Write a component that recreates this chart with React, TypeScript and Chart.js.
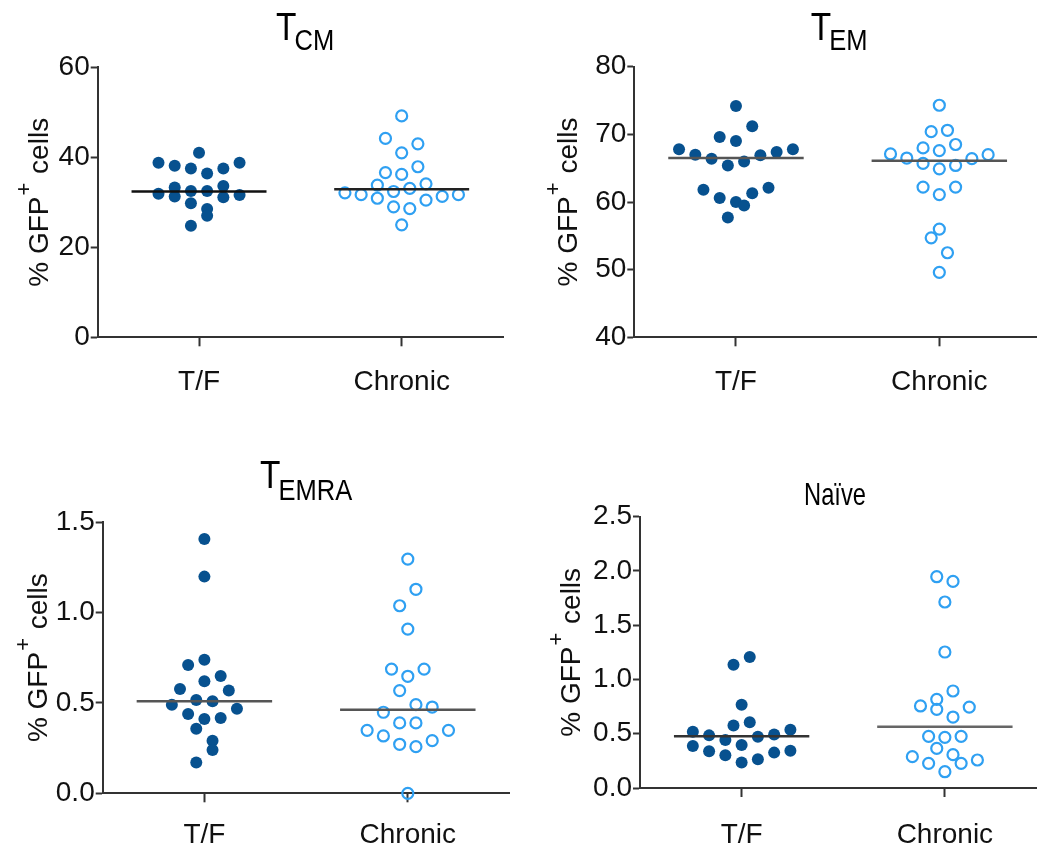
import React, { useEffect, useRef } from "react";
import { Chart, registerables } from "chart.js";

Chart.register(...registerables);

// ---------- DATA ----------
const categories = ["T/F", "Chronic"];
const jitterStep = 0.04; // width of one jitter column, in category units
const medianHalfWidth = 0.333;

// T_CM
const tcmTF = [38.8, 38.1, 37.5, 41.0, 36.4, 37.5, 38.8, 31.9, 33.3, 31.3, 32.5, 32.5, 33.6, 31.1, 31.6, 29.8, 28.5, 27.0, 24.8];
const tcmTFSlot = [-5, -3, -1, 0, 1, 3, 5, -5, -3, -3, -1, 1, 3, 3, 5, -1, 1, 1, -1];
const tcmCh = [49.2, 44.2, 43.0, 41.0, 36.6, 36.2, 37.9, 33.8, 34.1, 32.1, 31.7, 30.9, 32.4, 33.1, 30.5, 31.3, 31.7, 29.0, 28.6, 25.0];
const tcmChSlot = [0, -2, 2, 0, -2, 0, 2, -3, 3, -7, -5, -3, -1, 1, 3, 5, 7, -1, 1, 0];
const tcmMedians = [32.4, 32.9];
const tcmTicks = [0, 20, 40, 60];

// T_EM
const temTF = [74.2, 71.2, 69.6, 69.0, 67.8, 67.0, 66.4, 65.4, 66.0, 66.9, 67.4, 67.8, 61.8, 60.6, 60.0, 59.5, 61.3, 62.1, 57.7];
const temTFSlot = [0, 2, -2, 0, -7, -5, -3, -1, 1, 3, 5, 7, -4, -2, 0, 1, 2, 4, -1];
const temCh = [74.3, 70.4, 70.6, 68.0, 67.6, 68.5, 67.1, 66.5, 65.7, 64.9, 65.4, 66.4, 67.0, 62.2, 61.1, 62.2, 56.0, 54.7, 52.5, 49.6];
const temChSlot = [0, -1, 1, -2, 0, 2, -6, -4, -2, 0, 2, 4, 6, -2, 0, 2, 0, -1, 1, 0];
const temMedians = [66.5, 66.1];
const temTicks = [40, 50, 60, 70, 80];

// T_EMRA
const temraTF = [1.406, 1.198, 0.739, 0.709, 0.649, 0.619, 0.577, 0.568, 0.49, 0.516, 0.509, 0.468, 0.439, 0.411, 0.416, 0.357, 0.291, 0.24, 0.17];
const temraTFSlot = [0, 0, 0, -2, 2, 0, -3, 3, -4, -1, 1, 4, -2, 0, 2, -1, 1, 1, -1];
const temraCh = [1.295, 1.128, 1.037, 0.908, 0.687, 0.687, 0.647, 0.568, 0.49, 0.477, 0.448, 0.389, 0.389, 0.348, 0.317, 0.348, 0.271, 0.258, 0.291, 0.0];
const temraChSlot = [0, 1, -1, 0, -2, 2, 0, -1, 1, 3, -3, -1, 1, -5, -3, 5, -1, 1, 3, 0];
const temraMedians = [0.509, 0.462];
const temraTicks = [0, 0.5, 1.0, 1.5];

// Naïve
const naiveTF = [1.207, 1.136, 0.768, 0.577, 0.605, 0.519, 0.485, 0.442, 0.473, 0.494, 0.537, 0.387, 0.338, 0.301, 0.396, 0.326, 0.344, 0.236, 0.264];
const naiveTFSlot = [1, -1, 0, -1, 1, -6, -4, -2, 2, 4, 6, -6, -4, -2, 0, 4, 6, 0, 2];
const naiveCh = [1.947, 1.904, 1.714, 1.253, 0.894, 0.817, 0.756, 0.725, 0.746, 0.654, 0.476, 0.467, 0.476, 0.365, 0.307, 0.289, 0.227, 0.227, 0.258, 0.15];
const naiveChSlot = [-1, 1, 0, 0, 1, -1, -3, -1, 3, 1, -2, 0, 2, -1, 1, -4, -2, 2, 4, 0];
const naiveMedians = [0.476, 0.565];
const naiveTicks = [0, 0.5, 1.0, 1.5, 2.0, 2.5];

// ---------- STYLE / LAYOUT ----------
const DARK = "#07518f";
const LIGHT = "#2fa0f2";
const AXIS = "#333333";
const FONT = '"Liberation Sans", Arial, Helvetica, sans-serif';

type Panel = {
  title: string;
  sub: string;
  tf: number[];
  tfSlot: number[];
  ch: number[];
  chSlot: number[];
  medians: number[];
  medianColors: string[];
  ticks: number[];
  decimals: number;
  left: number;
  top: number;
  width: number;
  height: number;
  plotLeft: number;
  plotRight: number;
  plotTop: number;
  plotBottom: number;
  titleX: number;
  titleBase: number;
  subBase: number;
  yTitleX: number;
  labelPad: number;
};

const panels: Panel[] = [
  {
    title: "T", sub: "CM", tf: tcmTF, tfSlot: tcmTFSlot, ch: tcmCh, chSlot: tcmChSlot,
    medians: tcmMedians, medianColors: ["#111", "#222"], ticks: tcmTicks, decimals: 0,
    left: 0, top: 0, width: 520, height: 430,
    plotLeft: 97.7, plotRight: 503, plotTop: 67.3, plotBottom: 337.3,
    titleX: 306, titleBase: 40, subBase: 50, yTitleX: 48, labelPad: 19,
  },
  {
    title: "T", sub: "EM", tf: temTF, tfSlot: temTFSlot, ch: temCh, chSlot: temChSlot,
    medians: temMedians, medianColors: ["#555", "#555"], ticks: temTicks, decimals: 0,
    left: 520, top: 0, width: 540, height: 430,
    plotLeft: 634.3, plotRight: 1041, plotTop: 66.7, plotBottom: 337.3,
    titleX: 840, titleBase: 40, subBase: 50, yTitleX: 577, labelPad: 19,
  },
  {
    title: "T", sub: "EMRA", tf: temraTF, tfSlot: temraTFSlot, ch: temraCh, chSlot: temraChSlot,
    medians: temraMedians, medianColors: ["#555", "#555"], ticks: temraTicks, decimals: 1,
    left: 0, top: 430, width: 520, height: 450,
    plotLeft: 102.7, plotRight: 509.5, plotTop: 522, plotBottom: 793.3,
    titleX: 307, titleBase: 488, subBase: 500, yTitleX: 47, labelPad: 16,
  },
  {
    title: "Naïve", sub: "", tf: naiveTF, tfSlot: naiveTFSlot, ch: naiveCh, chSlot: naiveChSlot,
    medians: naiveMedians, medianColors: ["#333", "#666"], ticks: naiveTicks, decimals: 1,
    left: 520, top: 430, width: 540, height: 450,
    plotLeft: 640, plotRight: 1046.5, plotTop: 516.7, plotBottom: 788,
    titleX: 835, titleBase: 505, subBase: 505, yTitleX: 580, labelPad: 21,
  },
];

const Y_AXIS_W = 80;
const X_AXIS_H = 70;

const textPlugin = {
  id: "panelText",
  afterDraw(chart: any, _args: any, opts: any) {
    const ctx: CanvasRenderingContext2D = chart.ctx;
    const area = chart.chartArea;
    const p: Panel = opts.panel;
    const ox = p.left;
    const oy = p.top;
    ctx.save();
    ctx.fillStyle = "#000";
    ctx.textBaseline = "alphabetic";
    ctx.textAlign = "left";
    // --- panel title (condensed) ---
    const sx = p.sub ? 0.88 : 0.74;
    const mainFont = p.sub ? `38px ${FONT}` : `32px ${FONT}`;
    const subFont = `29px ${FONT}`;
    ctx.font = mainFont;
    const wMain = ctx.measureText(p.title).width;
    ctx.font = subFont;
    const wSub = p.sub ? ctx.measureText(p.sub).width : 0;
    const total = (wMain + wSub) * sx;
    ctx.save();
    ctx.translate(p.titleX - ox - total / 2, 0);
    ctx.scale(sx, 1);
    ctx.font = mainFont;
    ctx.fillText(p.title, 0, p.titleBase - oy);
    if (p.sub) {
      ctx.font = subFont;
      ctx.fillText(p.sub, wMain - 2, p.subBase - oy);
    }
    ctx.restore();

    // --- y axis title with superscript ---
    const cy = (area.top + area.bottom) / 2;
    const f1 = `28px ${FONT}`;
    const f2 = `22px ${FONT}`;
    const a = "% GFP";
    const b = "+";
    const c = " cells";
    ctx.font = f1;
    const wa = ctx.measureText(a).width;
    const wc = ctx.measureText(c).width;
    ctx.font = f2;
    const wb = ctx.measureText(b).width;
    const tw = wa + wb + wc + 2;
    ctx.save();
    ctx.translate(p.yTitleX - ox, cy);
    ctx.rotate(-Math.PI / 2);
    ctx.fillStyle = "#111";
    ctx.font = f1;
    ctx.fillText(a, -tw / 2, 0);
    ctx.font = f2;
    ctx.fillText(b, -tw / 2 + wa + 1, -17);
    ctx.font = f1;
    ctx.fillText(c, -tw / 2 + wa + wb + 2, 0);
    ctx.restore();
    ctx.restore();
  },
};

function makePoints(values: number[], slots: number[], cat: number) {
  return values.map((v, i) => ({ x: cat + slots[i] * jitterStep, y: v }));
}

function PanelChart({ p }: { p: Panel }) {
  const ref = useRef<HTMLCanvasElement | null>(null);
  useEffect(() => {
    if (!ref.current) return;
    const padLeft = p.plotLeft - p.left - Y_AXIS_W;
    const padRight = p.left + p.width - p.plotRight;
    const padTop = p.plotTop - p.top;
    const padBottom = p.top + p.height - p.plotBottom - X_AXIS_H;
    const medianSets = p.medians.map((m, i) => ({
      type: "line" as const,
      data: [
        { x: i - medianHalfWidth, y: m },
        { x: i + medianHalfWidth, y: m },
      ],
      borderColor: p.medianColors[i],
      borderWidth: 2.5,
      pointRadius: 0,
      clip: false as any,
    }));
    const chart = new Chart(ref.current, {
      type: "scatter",
      data: {
        datasets: [
          ...medianSets,
          {
            data: makePoints(p.tf, p.tfSlot, 0),
            pointRadius: 6,
            pointHoverRadius: 6,
            backgroundColor: DARK,
            borderColor: DARK,
            borderWidth: 0,
            clip: false as any,
          },
          {
            data: makePoints(p.ch, p.chSlot, 1),
            pointRadius: 5.5,
            pointHoverRadius: 5.5,
            backgroundColor: "rgba(0,0,0,0)",
            borderColor: LIGHT,
            borderWidth: 2.2,
            clip: false as any,
          },
        ] as any,
      },
      options: {
        animation: false,
        responsive: false,
        maintainAspectRatio: false,
        events: [],
        layout: { padding: { left: padLeft, right: padRight, top: padTop, bottom: padBottom } },
        plugins: {
          legend: { display: false },
          tooltip: { enabled: false },
          title: { display: false },
          panelText: { panel: p },
        } as any,
        scales: {
          x: {
            type: "linear",
            min: -0.5,
            max: 1.5,
            afterBuildTicks: (s: any) => {
              s.ticks = categories.map((_, i) => ({ value: i }));
            },
            afterFit: (s: any) => {
              s.height = X_AXIS_H;
            },
            ticks: {
              callback: (v: any) => categories[Math.round(Number(v))],
              font: { family: FONT, size: 28 },
              color: "#111",
              padding: p.labelPad,
              autoSkip: false,
              maxRotation: 0,
            },
            grid: { drawOnChartArea: false, drawTicks: true, tickLength: 9, tickWidth: 2, tickColor: AXIS },
            border: { display: true, color: AXIS, width: 2 },
          },
          y: {
            type: "linear",
            min: p.ticks[0],
            max: p.ticks[p.ticks.length - 1],
            afterBuildTicks: (s: any) => {
              s.ticks = p.ticks.map((v) => ({ value: v }));
            },
            afterFit: (s: any) => {
              s.width = Y_AXIS_W;
            },
            ticks: {
              callback: (v: any) => Number(v).toFixed(p.decimals),
              font: { family: FONT, size: 28 },
              color: "#111",
              padding: 1,
              autoSkip: false,
            },
            grid: { drawOnChartArea: false, drawTicks: true, tickLength: 7, tickWidth: 2, tickColor: AXIS },
            border: { display: true, color: AXIS, width: 2 },
          },
        },
      },
      plugins: [textPlugin as any],
    });
    return () => chart.destroy();
  }, [p]);
  return (
    <canvas
      ref={ref}
      width={p.width}
      height={p.height}
      style={{ position: "absolute", left: p.left, top: p.top, width: p.width, height: p.height }}
    />
  );
}

export default function App() {
  return (
    <div
      style={{
        position: "fixed",
        left: 0,
        top: 0,
        width: 1037,
        height: 850,
        overflow: "hidden",
        background: "#fff",
      }}
    >
      {panels.map((p, i) => (
        <PanelChart key={i} p={p} />
      ))}
    </div>
  );
}
